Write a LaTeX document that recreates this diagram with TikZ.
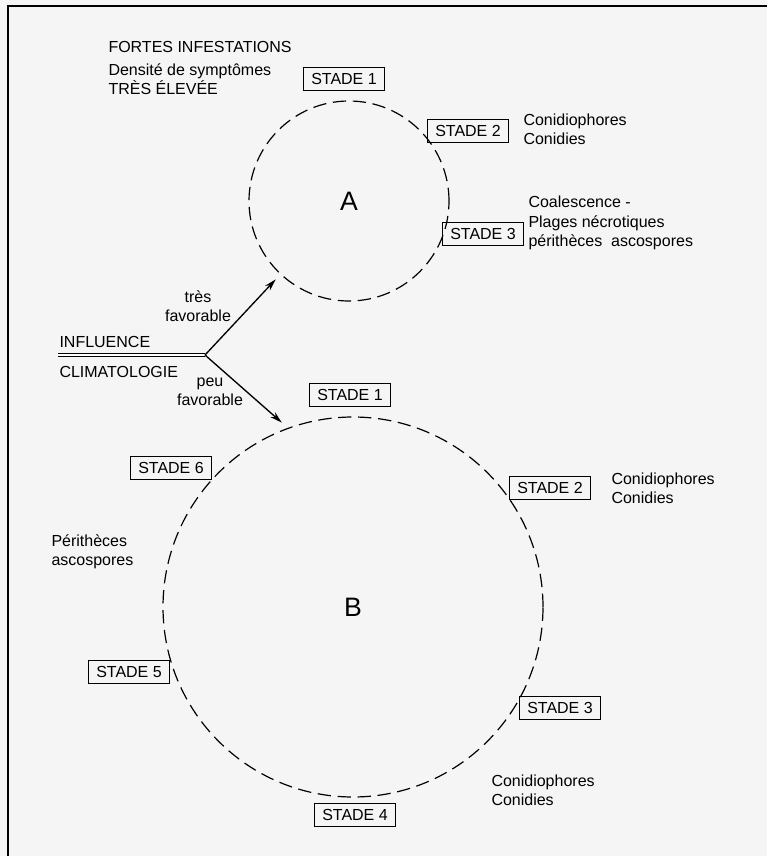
\documentclass[tikz,border=0pt]{standalone}
\usepackage{fontspec}
\setmainfont{Liberation Sans}
\usetikzlibrary{arrows.meta}

\tikzset{every picture/.style={line width=0.75pt}}
\tikzset{
  stadebox/.style={draw, line width=1pt, inner xsep=6pt, inner ysep=3pt, minimum height=17pt, font=\fontsize{12}{14}\selectfont},
  notetext/.style={align=left, anchor=west, inner sep=0pt, font=\fontsize{12}{14.5}\selectfont},
  stadering/.style={circle, draw, dash pattern={on 10pt off 5pt}, line width=0.9pt, inner sep=0pt, font=\fontsize{20}{24}\selectfont},
  arrowline/.style={line width=1pt, -{Stealth[length=9pt, width=5pt]}}
}

\begin{document}
\begin{tikzpicture}[x=0.75pt,y=0.75pt,yscale=-1,xscale=1]
	\useasboundingbox (0,0) rectangle (767,856);
	\fill [white!96!black] (0,0) rectangle (767,856);

	%Frame
	\draw [line width=1.5pt] (8,856) -- (8,6) -- (767,6);

	%Shape: Circle A
	\node [stadering, minimum size=150pt] (circA) at (349,201) {A};
	%Shape: Circle B
	\node [stadering, minimum size=285pt] (circB) at (353,607) {B};

	%Straight Lines: influence
	\coordinate (start) at (58,355);
	\coordinate (fork) at (205,355);
	\draw [double, line width=0.8pt, double distance=1.2pt] (start) -- (fork);
	\draw [arrowline, shorten >=5pt] (fork) -- (circA);
	\draw [arrowline, shorten >=6pt] (fork) -- (circB.110);

	% Stades A
	\node [stadebox] (a1) at (344,79) {STADE 1};
	\node [stadebox] (a2) at (468,131) {STADE 2};
	\node [stadebox] (a3) at (483,234) {STADE 3};
	% Stades B
	\node [stadebox] (b1) at (350,395) {STADE 1};
	\node [stadebox] (b2) at (550,488) {STADE 2};
	\node [stadebox] (b3) at (560,708) {STADE 3};
	\node [stadebox] (b4) at (355,815) {STADE 4};
	\node [stadebox] (b5) at (129,672) {STADE 5};
	\node [stadebox] (b6) at (171,468) {STADE 6};

	% Text Node
	\node [notetext] (fortes) at (108,47) {FORTES INFESTATIONS};
	% Text Node
	\node [notetext] (densite) at (108,79) {Densité de symptômes\\TRÈS ÉLEVÉE};
	% Text Node
	\node [notetext] (conA) at (523,129) {Conidiophores\\Conidies};
	% Text Node
	\node [notetext] (coal) at (528,223) {Coalescence -\\Plages nécrotiques\\périthèces\ \ ascospores};
	% Text Node
	\node [notetext] (infl) at (59,342) {INFLUENCE};
	% Text Node
	\node [notetext] (clim) at (59,372) {CLIMATOLOGIE};
	% Text Node
	\node [notetext, align=center, anchor=center] (tresfav) at (198,306) {très\\favorable};
	% Text Node
	\node [notetext, align=center, anchor=center] (peufav) at (210,392) {peu\\favorable};
	% Text Node
	\node [notetext] (conB) at (611,488) {Conidiophores\\Conidies};
	% Text Node
	\node [notetext] (perith) at (51,552) {Périthèces\\ascospores};
	% Text Node
	\node [notetext] (conB2) at (491,790) {Conidiophores\\Conidies};

\end{tikzpicture}
\end{document}
